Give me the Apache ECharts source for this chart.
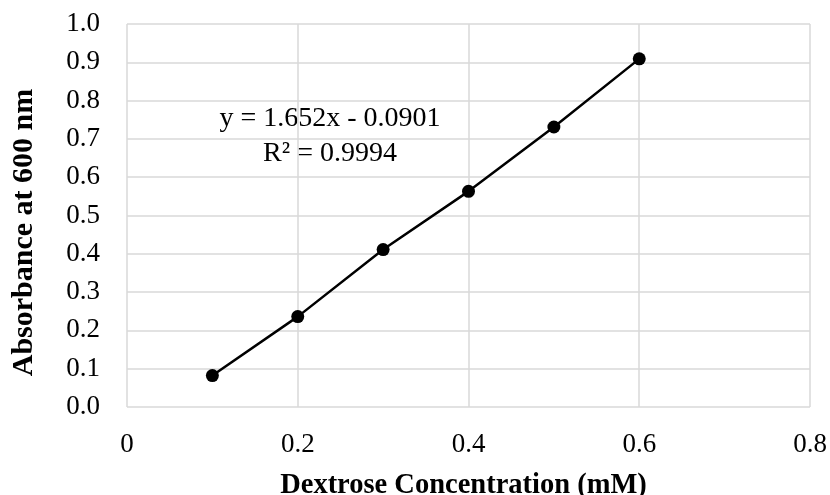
<!DOCTYPE html>
<html><head><meta charset="utf-8">
<script src="https://cdn.jsdelivr.net/npm/echarts@6/dist/echarts.min.js"></script>
<style>html,body{margin:0;padding:0;background:#fff}#c{width:830px;height:495px}</style>
</head><body><div id="c"></div>
<script>
const concentrations = [0.1, 0.2, 0.3, 0.4, 0.5, 0.6];
const absorbance = [0.082, 0.236, 0.411, 0.563, 0.731, 0.909];
const equationText = 'y = 1.652x - 0.0901';
const r2Text = 'R² = 0.9994';
const xTitle = 'Dextrose Concentration (mM)';
const yTitle = 'Absorbance at 600 nm';

const font = '"Liberation Serif", "Times New Roman", serif';
const chart = echarts.init(document.getElementById('c'));
chart.setOption({
  animation: false,
  backgroundColor: '#fff',
  grid: { left: 127, right: 20, top: 24, bottom: 88, containLabel: false, outerBoundsMode: 'none' },
  xAxis: {
    type: 'value', min: 0, max: 0.8, interval: 0.2,
    name: xTitle, nameLocation: 'middle', nameGap: 64,
    nameTextStyle: { fontFamily: font, fontSize: 28.5, fontWeight: 'bold', color: '#000', padding: [0, 10, 0, 0] },
    axisLine: { show: false }, axisTick: { show: false },
    axisLabel: { fontFamily: font, fontSize: 27, color: '#000', margin: 24,
      formatter: v => v === 0 ? '0' : v.toFixed(1) },
    splitLine: { show: true, lineStyle: { color: '#d9d9d9', width: 1.5 } }
  },
  yAxis: {
    type: 'value', min: 0, max: 1.0, interval: 0.1,
    name: yTitle, nameLocation: 'middle', nameGap: 88,
    nameTextStyle: { fontFamily: font, fontSize: 30, fontWeight: 'bold', color: '#000', padding: [0, 34, 0, 0] },
    axisLine: { show: false }, axisTick: { show: false },
    axisLabel: { fontFamily: font, fontSize: 27, color: '#000', margin: 27,
      formatter: v => v.toFixed(1) },
    splitLine: { show: true, lineStyle: { color: '#d9d9d9', width: 1.5 } }
  },
  graphic: [
    { type: 'text', style: { text: equationText + '\n' + r2Text, x: 330, y: 101,
      font: '28px ' + font, fill: '#000', textAlign: 'center', textVerticalAlign: 'top', lineHeight: 35 } }
  ],
  series: [{
    type: 'line',
    data: concentrations.map((x, i) => [x, absorbance[i]]),
    symbol: 'circle', symbolSize: 13,
    itemStyle: { color: '#000' },
    lineStyle: { color: '#000', width: 2.5 }
  }]
});
</script></body></html>
